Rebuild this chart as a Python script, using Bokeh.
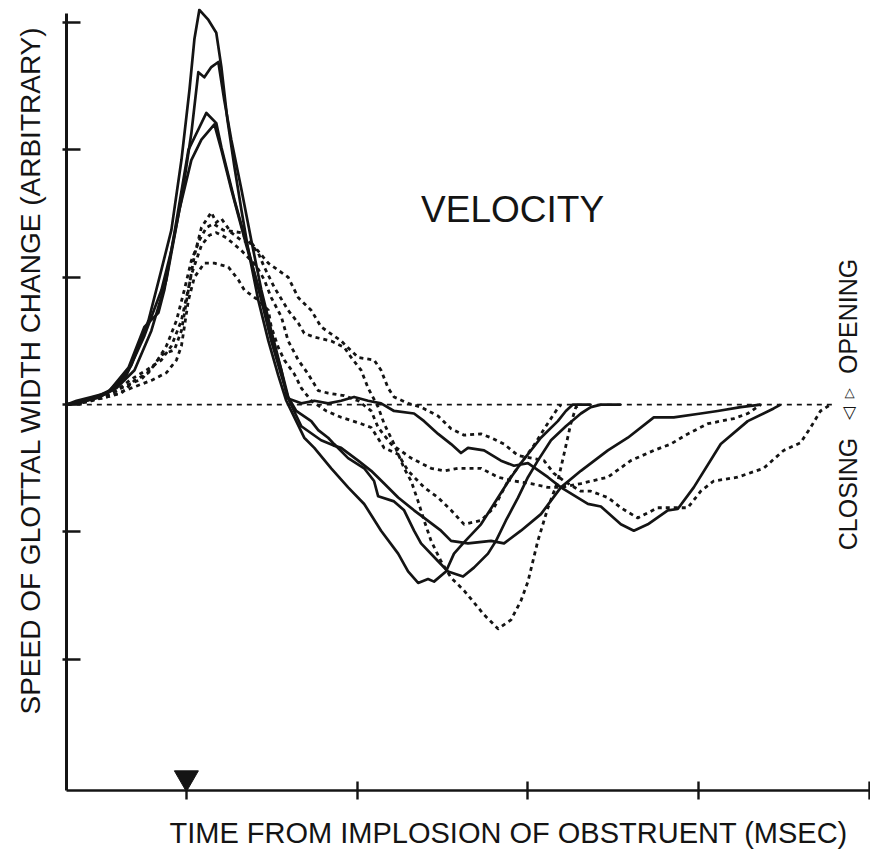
from math import pi
from bokeh.plotting import figure
from bokeh.models import FixedTicker, Label, Title
from bokeh.embed import file_html
from bokeh.resources import INLINE

# ---- data: time (ms from implosion) and speed of glottal width change (arbitrary) ----
s1_t = [-70, -64.3, -55.6, -46.8, -38.0, -32.2, -22.2, -14.6, -8.8, -2.9, 1.8, 4.7, 7.6, 12.9, 17.5, 20.5, 24.0, 28.1,
        32.2, 36.3, 42.1, 48.0, 53.8, 58.5, 61.4, 69.0, 74.9, 84.8, 94.7, 104.1, 114.0, 124.0, 129.8, 135.7, 141.5,
        145.0, 152.0, 156.7, 162.0, 172.5, 182.5, 190.1, 195.9, 207.6, 217.5, 222.2, 226.3, 236.8]
s1_v = [0, 0.03, 0.06, 0.09, 0.20, 0.31, 0.66, 1.06, 1.37, 1.92, 2.47, 2.87, 3.10, 3.02, 2.92, 2.65, 2.24, 1.87,
        1.53, 1.21, 0.82, 0.50, 0.23, 0.03, -0.05, -0.26, -0.34, -0.50, -0.65, -0.78, -0.99, -1.17, -1.31, -1.40, -1.37,
        -1.39, -1.31, -1.17, -1.09, -0.94, -0.73, -0.57, -0.46, -0.26, -0.13, -0.05, 0, 0]

s2_t = [-70, -61.4, -52.6, -43.9, -35.1, -24.6, -14.6, -8.8, -2.9, 2.9, 7.0, 10.5, 14.6, 18.7, 22.2, 26.3, 32.2,
        38.0, 43.9, 49.7, 55.6, 59.6, 64.3, 73.1, 77.2, 83.0, 86.5, 94.7, 104.1, 109.9, 112.3, 121.6, 127.5, 133.3,
        137.4, 147.4, 153.2, 162.0, 168.4, 176.6, 181.3, 187.1, 194.2, 200.0, 205.8, 213.5, 222.2, 231.0, 236.8,
        242.7, 254.4]
s2_v = [0, 0.02, 0.05, 0.11, 0.23, 0.54, 0.90, 1.21, 1.61, 2.13, 2.61, 2.57, 2.65, 2.69, 2.39, 2.08, 1.69,
        1.29, 0.90, 0.58, 0.27, 0.06, -0.05, -0.13, -0.20, -0.26, -0.31, -0.42, -0.50, -0.60, -0.72, -0.76, -0.83, -0.99,
        -1.09, -1.23, -1.31, -1.35, -1.28, -1.17, -1.07, -0.91, -0.73, -0.57, -0.44, -0.28, -0.17, -0.07, -0.02,
        0, 0]

s3_t = [-70, -62.6, -54.4, -45.0, -33.9, -24.6, -16.4, -12.9, -7.0, 1.2, 7.0, 11.7, 17.5, 20.5, 28.1, 36.8, 43.9,
        49.7, 55.6, 60.2, 67.3, 78.9, 86.0, 90.6, 100.6, 108.2, 115.8, 124.0, 133.3, 139.2, 149.1, 155.0, 164.9,
        178.4, 186.0, 195.9, 207.6, 219.3, 231.0, 246.8, 258.5, 273.7, 285.4, 301.2, 311.1, 324.6, 336.3]
s3_v = [0, 0.01, 0.05, 0.11, 0.29, 0.61, 0.72, 0.90, 1.35, 2.00, 2.16, 2.29, 2.21, 2.02, 1.61, 1.19, 0.82,
        0.50, 0.23, 0.03, -0.17, -0.28, -0.32, -0.34, -0.44, -0.52, -0.62, -0.73, -0.83, -0.89, -0.99, -1.07, -1.09,
        -1.07, -1.09, -0.99, -0.86, -0.65, -0.52, -0.36, -0.26, -0.10, -0.10, -0.07, -0.05, -0.02, 0]

s4_t = [-70, -60.2, -50.9, -40.9, -30.4, -20.5, -11.7, -4.1, 2.9, 8.8, 16.4, 20.5, 26.3, 35.1, 42.7, 49.7, 55.6,
        59.1, 67.3, 74.9, 83.0, 90.6, 98.2, 106.4, 114.0, 121.6, 133.3, 139.2, 147.4, 155.0, 160.8, 164.9, 174.3,
        184.2, 191.8, 200.0, 211.7, 219.3, 235.1, 242.7, 254.4, 262.0, 270.2, 281.9, 287.7, 297.1, 312.9, 328.7,
        343.9, 348.0]
s4_v = [0, 0.03, 0.06, 0.13, 0.27, 0.58, 0.98, 1.53, 1.92, 2.08, 2.20, 2.00, 1.69, 1.25, 0.90, 0.54, 0.27,
        0.05, 0.01, 0.03, 0.01, 0.03, 0.06, 0.03, 0.01, -0.05, -0.07, -0.13, -0.23, -0.31, -0.38, -0.34, -0.36,
        -0.44, -0.48, -0.46, -0.57, -0.65, -0.78, -0.80, -0.94, -0.99, -0.94, -0.83, -0.82, -0.65, -0.31, -0.13,
        -0.03, 0]

d1_t = [-70, -61.4, -49.7, -38.0, -30.4, -22.2, -14.6, -7.0, -2.9, 1.2, 4.7, 8.8, 11.7, 14.6, 17.5, 20.5, 26.3,
        32.2, 38.0, 48.0, 59.6, 65.5, 73.1, 78.9, 90.6, 100.6, 109.9, 114.0, 118.1, 121.6, 129.8, 137.4, 147.4,
        155.0, 162.6, 172.5, 178.4, 186.0, 194.2, 209.4, 215.2, 221.1, 231.0, 236.8, 246.8, 254.4, 264.3, 276.0,
        293.6, 301.2, 308.8, 322.8, 338.0, 349.7, 359.6, 365.5, 371.3, 377.2]
d1_v = [0, 0.03, 0.05, 0.09, 0.19, 0.25, 0.39, 0.43, 0.58, 0.90, 1.17, 1.39, 1.45, 1.51, 1.43, 1.46, 1.35,
        1.29, 1.27, 1.11, 1.00, 0.84, 0.74, 0.61, 0.50, 0.37, 0.35, 0.27, 0.13, 0.06, 0.01, -0.02, -0.09,
        -0.19, -0.24, -0.23, -0.26, -0.31, -0.40, -0.44, -0.54, -0.60, -0.68, -0.68, -0.73, -0.81, -0.89, -0.81,
        -0.81, -0.68, -0.60, -0.57, -0.50, -0.36, -0.30, -0.18, -0.05, 0]

d2_t = [-70, -58.5, -46.8, -35.1, -26.3, -18.7, -11.7, -5.8, -1.2, 2.9, 7.6, 11.7, 15.8, 21.6, 32.2, 42.1, 45.6,
        51.5, 59.6, 65.5, 69.0, 74.9, 84.8, 92.4, 96.5, 102.3, 106.4, 112.3, 115.8, 121.6, 127.5, 131.6, 135.7,
        139.2, 143.3, 149.1, 155.0, 162.6, 174.3, 182.5, 190.1, 195.9, 200.0, 205.8, 211.7, 217.5, 221.1, 225.1,
        228.1, 231.0]
d2_v = [0, 0.02, 0.07, 0.15, 0.20, 0.31, 0.46, 0.66, 0.90, 1.13, 1.29, 1.39, 1.42, 1.37, 1.35, 1.19, 1.08,
        0.92, 0.74, 0.64, 0.56, 0.53, 0.50, 0.45, 0.37, 0.27, 0.13, -0.02, -0.15, -0.31, -0.50, -0.60, -0.76,
        -0.91, -1.07, -1.23, -1.36, -1.46, -1.65, -1.76, -1.69, -1.54, -1.39, -1.07, -0.81, -0.60, -0.39, -0.15,
        -0.02, 0]

d3_t = [-70, -55.6, -43.9, -32.2, -20.5, -11.7, -5.8, -2.9, 1.2, 4.7, 10.5, 16.4, 24.6, 30.4, 33.9, 42.1, 48.0,
        49.7, 53.8, 57.3, 63.2, 67.3, 73.1, 81.9, 90.6, 102.3, 108.2, 115.8, 124.0, 129.8, 139.2, 147.4, 155.0,
        162.6, 172.5, 180.1, 188.3, 195.9, 203.5, 210.5, 216.4, 219.3]
d3_v = [0, 0.03, 0.07, 0.13, 0.19, 0.25, 0.35, 0.46, 0.82, 1.00, 1.11, 1.11, 1.08, 0.98, 0.90, 0.82, 0.74,
        0.61, 0.45, 0.35, 0.24, 0.13, 0.03, -0.05, -0.10, -0.15, -0.18, -0.34, -0.39, -0.52, -0.65, -0.73, -0.83,
        -0.94, -0.91, -0.81, -0.60, -0.46, -0.32, -0.17, -0.05, 0]

d4_t = [-70, -64.3, -52.6, -40.9, -32.2, -23.4, -14.6, -8.8, -2.9, 2.9, 8.8, 13.5, 17.5, 23.4, 32.2, 40.9, 45.6,
        49.7, 55.6, 59.6, 65.5, 71.3, 77.2, 83.0, 92.4, 100.6, 108.2, 112.3, 119.9, 131.6, 143.3, 150.9, 159.1,
        172.5, 182.5, 191.8, 201.8, 211.7, 219.3, 231.0, 246.8, 260.2, 273.7, 283.6, 293.6, 305.3, 320.5, 328.7,
        336.3]
d4_v = [0, 0.02, 0.05, 0.11, 0.20, 0.27, 0.35, 0.46, 0.66, 1.02, 1.25, 1.33, 1.35, 1.31, 1.21, 1.09, 0.98,
        0.84, 0.69, 0.50, 0.35, 0.24, 0.11, 0.09, 0.07, 0.03, -0.05, -0.18, -0.31, -0.42, -0.50, -0.52, -0.50,
        -0.50, -0.57, -0.60, -0.62, -0.65, -0.65, -0.62, -0.57, -0.44, -0.36, -0.31, -0.23, -0.15, -0.11, -0.07,
        0]

baseline_t = [-70, 378]
baseline_v = [0, 0]

x_ticks = [0, 100, 200, 300, 400]
y_ticks = [-2, -1, 0, 1, 2, 3]
implosion_t = [0]

solid_series = [(s1_t, s1_v), (s2_t, s2_v), (s3_t, s3_v), (s4_t, s4_v)]
dotted_series = [(d1_t, d1_v), (d2_t, d2_v), (d3_t, d3_v), (d4_t, d4_v)]

X_LO, X_HI = -70.2, 400
Y_LO, Y_HI = -3.03, 3.11

p = figure(width=870, height=866, x_range=(X_LO, X_HI), y_range=(Y_LO, Y_HI),
           output_backend="svg", toolbar_location=None,
           min_border_left=65, min_border_right=1, min_border_top=8, min_border_bottom=76)
p.outline_line_color = None
p.xgrid.visible = False
p.ygrid.visible = False
p.background_fill_color = "white"

INK = "#141414"
FONT = "Liberation Sans"

# zero reference line
p.line(baseline_t, baseline_v, line_color=INK, line_width=1.6, line_dash="5 5")

for t, v in dotted_series:
    p.line(t, v, line_color=INK, line_width=2.8, line_dash="4 4", line_join="round")
for t, v in solid_series:
    p.line(t, v, line_color=INK, line_width=2.7, line_join="round")

# implosion marker on the time axis
p.scatter(implosion_t, [Y_LO + 0.1], marker="inverted_triangle", size=24,
          fill_color=INK, line_color=INK)

# axes (tick labels in the source are illegible, so they are not drawn)
p.yaxis.ticker = FixedTicker(ticks=y_ticks)
p.yaxis.bounds = (Y_LO, 3.07)
p.xaxis.ticker = FixedTicker(ticks=x_ticks)
for ax in (p.xaxis, p.yaxis):
    ax.axis_line_color = INK
    ax.major_tick_line_color = INK
    ax.major_tick_line_width = 2.4
    ax.minor_tick_line_color = None
    ax.major_label_text_font_size = "1px"
    ax.major_label_text_color = None
    ax.major_label_standoff = 0
p.yaxis.axis_line_width = 3
p.yaxis.major_tick_in = 14
p.yaxis.major_tick_out = 4
p.xaxis.axis_line_width = 2.6
p.xaxis.major_tick_in = 9
p.xaxis.major_tick_out = 9

# axis titles
p.add_layout(Title(text="SPEED OF GLOTTAL WIDTH CHANGE (ARBITRARY)", align="left", offset=76,
                   vertical_align="top", standoff=29, text_font=FONT, text_font_size="28px",
                   text_font_style="normal", text_color=INK), "left")
p.add_layout(Title(text="TIME FROM IMPLOSION OF OBSTRUENT (MSEC)", align="left", offset=103,
                   vertical_align="bottom", standoff=31, text_font=FONT, text_font_size="29px",
                   text_font_style="normal", text_color=INK), "below")

p.add_layout(Label(x=191, y=1.53, text="VELOCITY", text_align="center", text_baseline="middle",
                   text_font=FONT, text_font_size="37px", text_color=INK))

SIDE_X = 387.7
p.add_layout(Label(x=SIDE_X, y=-0.26, text="CLOSING", angle=pi / 2, text_align="right",
                   text_baseline="middle", text_font=FONT, text_font_size="25px", text_color=INK))
p.add_layout(Label(x=SIDE_X, y=0.24, text="OPENING", angle=pi / 2, text_align="left",
                   text_baseline="middle", text_font=FONT, text_font_size="25px", text_color=INK))
p.add_layout(Label(x=SIDE_X, y=-0.07, text="\u25c1", angle=pi / 2, text_align="center",
                   text_baseline="middle", text_font="DejaVu Sans", text_font_size="17px", text_color=INK))
p.add_layout(Label(x=SIDE_X, y=0.09, text="\u25b7", angle=pi / 2, text_align="center",
                   text_baseline="middle", text_font="DejaVu Sans", text_font_size="13px", text_color=INK))

open("out.html", "w").write(file_html(p, INLINE))
